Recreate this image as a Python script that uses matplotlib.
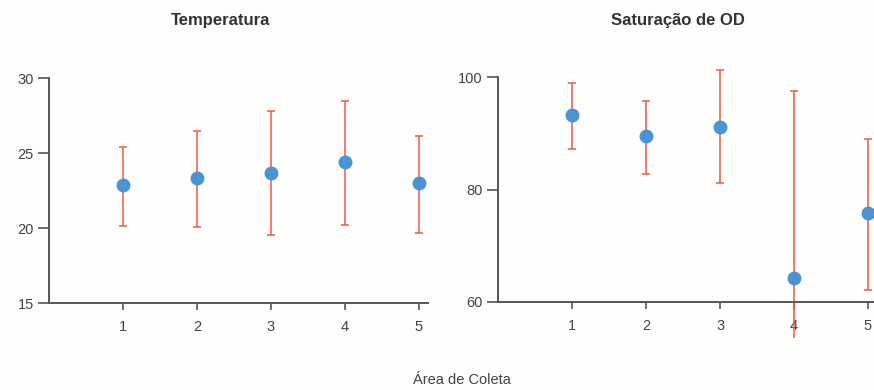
import matplotlib
matplotlib.use('Agg')
import matplotlib.pyplot as plt

areas = [1, 2, 3, 4, 5]

# Temperatura: média e limites das barras de erro
temp_mean = [22.9, 23.35, 23.7, 24.4, 23.0]
temp_low = [20.15, 20.05, 19.55, 20.2, 19.7]
temp_high = [25.4, 26.5, 27.8, 28.5, 26.15]

# Saturação de OD
od_mean = [93.2, 89.5, 91.1, 64.3, 75.8]
od_low = [87.2, 82.8, 81.2, 53.5, 62.1]
od_high = [99.0, 95.8, 101.3, 97.6, 89.0]

plt.rcParams['font.family'] = ['Liberation Sans', 'DejaVu Sans']

fig = plt.figure(figsize=(8.74, 3.9), dpi=100)
fig.patch.set_facecolor('#fdfdfb')

dot_color = '#4a94d4'
bar_color = '#e95a45'
axis_color = '#555555'


def draw_panel(ax, mean, low, high, ylim, yticks, low_caps=None):
    err = [[m - l for m, l in zip(mean, low)], [h - m for m, h in zip(mean, high)]]
    bars = ax.errorbar(areas, mean, yerr=err, fmt='none', ecolor=bar_color,
                       elinewidth=1.1, capsize=2.8, capthick=1.1, zorder=2)
    for part in list(bars.lines[1]) + list(bars.lines[2]):
        part.set_clip_on(False)
    # the bar that runs below the axis has no visible lower cap
    if low_caps is not None:
        bars.lines[1][0].set_markevery(low_caps)
    ax.plot(areas, mean, 'o', color=dot_color, ms=9, zorder=3, clip_on=False)
    ax.set_facecolor('none')
    ax.set_ylim(*ylim)
    ax.set_yticks(yticks)
    ax.set_xticks(areas)
    for s in ['top', 'right']:
        ax.spines[s].set_visible(False)
    for s in ['left', 'bottom']:
        ax.spines[s].set_color(axis_color)
        ax.spines[s].set_linewidth(1.4)
    ax.tick_params(axis='y', length=8, width=1.2, pad=3, colors=axis_color,
                   labelsize=10.5, labelcolor='#444444')
    ax.tick_params(axis='x', length=5, width=1.2, pad=7, colors=axis_color,
                   labelsize=10.5, labelcolor='#444444')


ax1 = fig.add_axes([0.056, 0.223, 0.434, 0.577])
ax1.set_xlim(0, 5.13)
draw_panel(ax1, temp_mean, temp_low, temp_high, (15, 30), [15, 20, 25, 30])

ax2 = fig.add_axes([0.570, 0.226, 0.44, 0.576])
ax2.set_xlim(0, 5.2)
draw_panel(ax2, od_mean, od_low, od_high, (60, 100), [60, 80, 100],
           low_caps=[0, 1, 2, 4])

fig.text(221 / 874, 1 - 20 / 390, 'Temperatura', ha='center', va='center',
         fontsize=12, fontweight='bold', color='#333333')
fig.text(678 / 874, 1 - 20 / 390, 'Saturação de OD', ha='center', va='center',
         fontsize=12, fontweight='bold', color='#333333')
fig.text(462 / 874, 1 - 380 / 390, 'Área de Coleta', ha='center', va='center',
         fontsize=10.5, color='#444444')

fig.savefig('out.png', dpi=100, facecolor=fig.get_facecolor())
